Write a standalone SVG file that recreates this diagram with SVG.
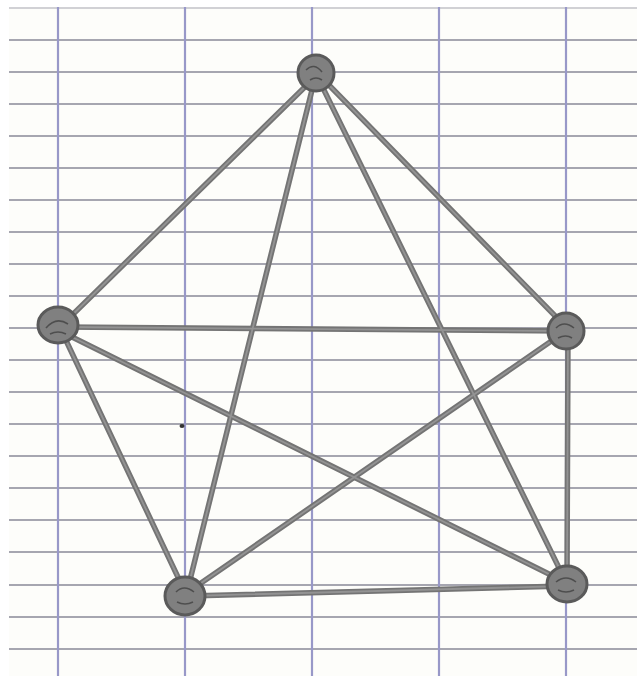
<svg xmlns="http://www.w3.org/2000/svg" width="637" height="676" viewBox="0 0 637 676">
<style>
.h{stroke:#a6a6b0;stroke-width:2.2}
.v{stroke:#9898c8;stroke-width:2.2}
.e{stroke:#747474;stroke-width:5.5;stroke-linecap:round;fill:none}
.ei{stroke:#939393;stroke-width:1.8;stroke-linecap:round;fill:none}
.n{fill:#808080;stroke:#5a5a5a;stroke-width:3}
.s{fill:none;stroke:#4e4e4e;stroke-width:1.6}
</style>
<rect width="637" height="676" fill="#ffffff"/>
<rect x="9" y="7" width="628" height="669" fill="#fdfdfa"/>
<g id="paper">
<line class="h" x1="9" y1="8" x2="637" y2="8" stroke-opacity="0.5"/>
<line class="h" x1="9" y1="40" x2="637" y2="40"/>
<line class="h" x1="9" y1="72" x2="637" y2="72"/>
<line class="h" x1="9" y1="104" x2="637" y2="104"/>
<line class="h" x1="9" y1="136" x2="637" y2="136"/>
<line class="h" x1="9" y1="168" x2="637" y2="168"/>
<line class="h" x1="9" y1="200" x2="637" y2="200"/>
<line class="h" x1="9" y1="232" x2="637" y2="232"/>
<line class="h" x1="9" y1="264" x2="637" y2="264"/>
<line class="h" x1="9" y1="296" x2="637" y2="296"/>
<line class="h" x1="9" y1="328" x2="637" y2="328"/>
<line class="h" x1="9" y1="360" x2="637" y2="360"/>
<line class="h" x1="9" y1="392" x2="637" y2="392"/>
<line class="h" x1="9" y1="424" x2="637" y2="424"/>
<line class="h" x1="9" y1="456" x2="637" y2="456"/>
<line class="h" x1="9" y1="488" x2="637" y2="488"/>
<line class="h" x1="9" y1="520" x2="637" y2="520"/>
<line class="h" x1="9" y1="552" x2="637" y2="552"/>
<line class="h" x1="9" y1="585" x2="637" y2="585"/>
<line class="h" x1="9" y1="617" x2="637" y2="617"/>
<line class="h" x1="9" y1="649" x2="637" y2="649"/>
<line class="v" x1="58" y1="7" x2="58" y2="676"/>
<line class="v" x1="185" y1="7" x2="185" y2="676"/>
<line class="v" x1="312" y1="7" x2="312" y2="676"/>
<line class="v" x1="439" y1="7" x2="439" y2="676"/>
<line class="v" x1="566" y1="7" x2="566" y2="676"/>
<ellipse cx="182" cy="426" rx="2.5" ry="2" fill="#333"/>
</g>
<g id="edges">
<line class="e" x1="312" y1="80" x2="62" y2="325"/>
<line class="e" x1="314" y1="82" x2="187" y2="592"/>
<line class="e" x1="320" y1="82" x2="565" y2="580"/>
<line class="e" x1="324" y1="80" x2="565" y2="326"/>
<line class="e" x1="62" y1="327" x2="565" y2="331"/>
<line class="e" x1="62" y1="332" x2="185" y2="592"/>
<line class="e" x1="64" y1="333" x2="565" y2="582"/>
<line class="e" x1="563" y1="333" x2="188" y2="592"/>
<line class="e" x1="568" y1="335" x2="567" y2="582"/>
<line class="e" x1="188" y1="596" x2="566" y2="586"/>
<line class="ei" x1="312" y1="80" x2="62" y2="325"/>
<line class="ei" x1="314" y1="82" x2="187" y2="592"/>
<line class="ei" x1="320" y1="82" x2="565" y2="580"/>
<line class="ei" x1="324" y1="80" x2="565" y2="326"/>
<line class="ei" x1="62" y1="327" x2="565" y2="331"/>
<line class="ei" x1="62" y1="332" x2="185" y2="592"/>
<line class="ei" x1="64" y1="333" x2="565" y2="582"/>
<line class="ei" x1="563" y1="333" x2="188" y2="592"/>
<line class="ei" x1="568" y1="335" x2="567" y2="582"/>
<line class="ei" x1="188" y1="596" x2="566" y2="586"/>
</g>
<g id="node-top">
<circle class="n" cx="316" cy="73" r="18"/>
<path class="s" d="M306 70 q8 -8 16 2 M310 80 q6 -4 12 0"/>
</g>
<g id="node-left">
<ellipse class="n" cx="58" cy="325" rx="20" ry="18"/>
<path class="s" d="M46 328 q10 -12 22 -4 M50 334 q8 -4 16 0"/>
</g>
<g id="node-right">
<circle class="n" cx="566" cy="331" r="18"/>
<path class="s" d="M556 328 q8 -8 18 0 M558 338 q8 -4 14 0"/>
</g>
<g id="node-bottom-left">
<ellipse class="n" cx="185" cy="596" rx="20" ry="19"/>
<path class="s" d="M176 592 q8 -8 18 0 M177 602 q8 4 16 0"/>
</g>
<g id="node-bottom-right">
<ellipse class="n" cx="567" cy="584" rx="20" ry="18"/>
<path class="s" d="M556 582 q10 -8 20 0 M558 590 q8 4 16 0"/>
</g>
</svg>
